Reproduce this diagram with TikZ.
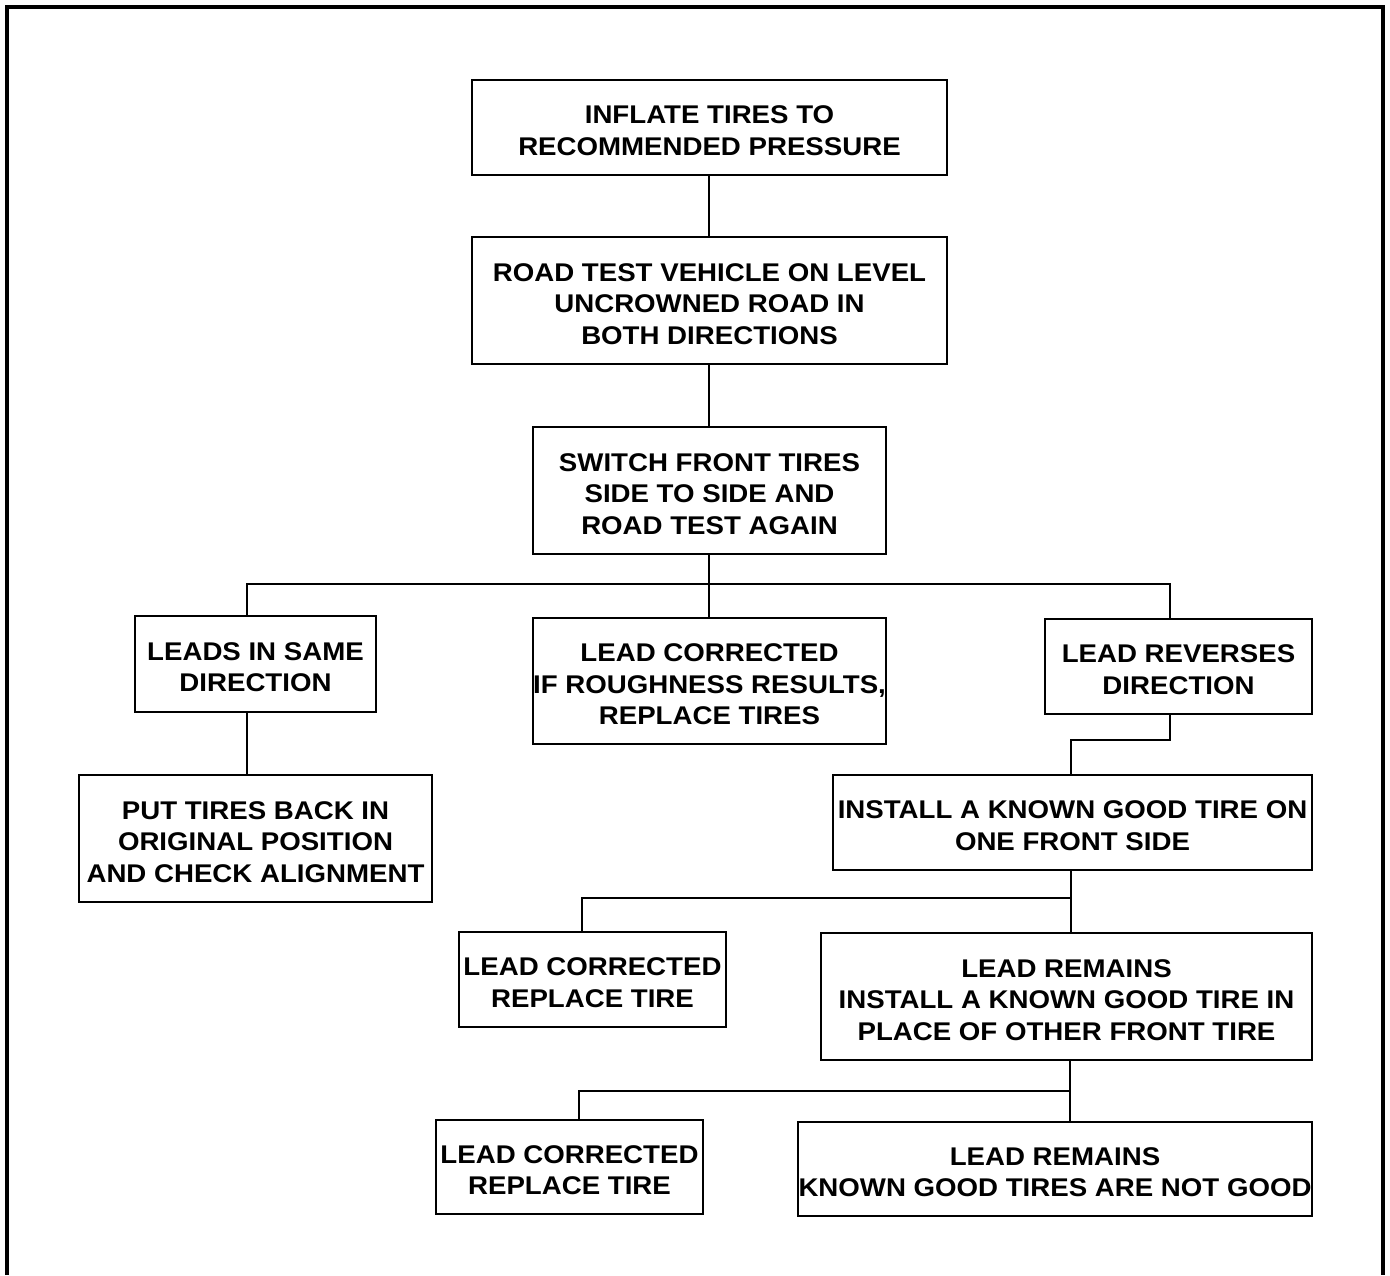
\documentclass[tikz,border=0pt]{standalone}
\usepackage{fontspec}
\setmainfont{Liberation Sans}[FakeStretch=1.08]
\newcommand\flowbox[5]{%
  \node[box,minimum width=#3,minimum height=#4] (#1) at #2 {};
  \node[txt] (#1t) at ([yshift=-1.6pt]#1.center) {#5};}
\begin{document}
\begin{tikzpicture}[x=0.5pt,y=-0.5pt,
  box/.style={draw,line width=1pt,rectangle,inner sep=0pt},
  txt/.style={inner sep=0pt,align=center,
    font=\fontsize{12.8}{15.75}\selectfont\bfseries},
  conn/.style={line width=1pt}]
\useasboundingbox (0,0) rectangle (1390,1275);
\draw[line width=1.6pt] (7,1275) -- (7,7) -- (1383,7) -- (1383,1275);

\flowbox{inf}{(709.5,127.5)}{237.5pt}{47.5pt}{INFLATE TIRES TO\\RECOMMENDED PRESSURE}
\flowbox{road}{(709.5,300.5)}{237.5pt}{63.5pt}{ROAD TEST VEHICLE ON LEVEL\\UNCROWNED ROAD IN\\BOTH DIRECTIONS}
\flowbox{sw}{(709.5,490.5)}{176.5pt}{63.5pt}{SWITCH FRONT TIRES\\SIDE TO SIDE AND\\ROAD TEST AGAIN}
\flowbox{same}{(255.5,664)}{120.5pt}{48pt}{LEADS IN SAME\\DIRECTION}
\flowbox{corr}{(709.5,681)}{176.5pt}{63pt}{LEAD CORRECTED\\IF ROUGHNESS RESULTS,\\REPLACE TIRES}
\flowbox{rev}{(1178.5,666.5)}{133.5pt}{47.5pt}{LEAD REVERSES\\DIRECTION}
\flowbox{put}{(255.5,838.5)}{176.5pt}{63.5pt}{PUT TIRES BACK IN\\ORIGINAL POSITION\\AND CHECK ALIGNMENT}
\flowbox{inst}{(1072.5,822.5)}{239.5pt}{47.5pt}{INSTALL A KNOWN GOOD TIRE ON\\ONE FRONT SIDE}
\flowbox{rep1}{(592.5,979.5)}{133.5pt}{47.5pt}{LEAD CORRECTED\\REPLACE TIRE}
\flowbox{rem}{(1066.5,996.5)}{245.5pt}{63.5pt}{LEAD REMAINS\\INSTALL A KNOWN GOOD TIRE IN\\PLACE OF OTHER FRONT TIRE}
\flowbox{rep2}{(569.5,1167)}{133.5pt}{47pt}{LEAD CORRECTED\\REPLACE TIRE}
\flowbox{bad}{(1055,1169)}{257pt}{47pt}{LEAD REMAINS\\KNOWN GOOD TIRES ARE NOT GOOD}

\coordinate (t) at (709,0);
\draw[conn] (inf.south -| t) -- (road.north -| t);
\draw[conn] (road.south -| t) -- (sw.north -| t);
\draw[conn] (sw.south -| t) -- (corr.north -| t);

\coordinate (j1) at (247,584);
\coordinate (j2) at (1170,584);
\draw[conn] (same.north -| j1) -- (j1) -- (j2) -- (rev.north -| j2);
\draw[conn] (same.south -| j1) -- (put.north -| j1);

\coordinate (k1) at (1170,740);
\coordinate (k2) at (1071,740);
\draw[conn] (rev.south -| k1) -- (k1) -- (k2) -- (inst.north -| k2);

\coordinate (m1) at (1071,898);
\coordinate (m2) at (582,898);
\draw[conn] (inst.south -| m1) -- (rem.north -| m1);
\draw[conn] (m1) -- (m2) -- (rep1.north -| m2);

\coordinate (n1) at (1070,1091);
\coordinate (n2) at (579,1091);
\draw[conn] (rem.south -| n1) -- (bad.north -| n1);
\draw[conn] (n1) -- (n2) -- (rep2.north -| n2);
\end{tikzpicture}
\end{document}
